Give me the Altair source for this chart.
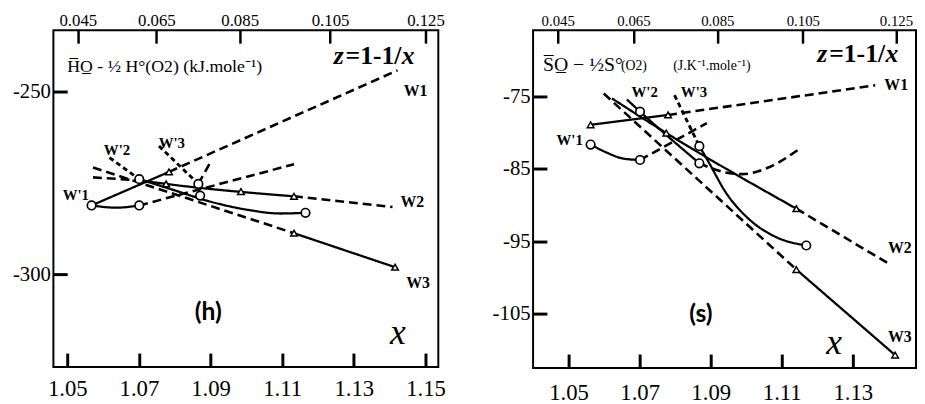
import altair as alt
import pandas as pd

# ------------------------------------------------------------------
# Panel (h): partial molar enthalpy
# ------------------------------------------------------------------
H_X_DOMAIN = [1.04614, 1.15358]
H_Y_DOMAIN = [-325.41, -233.24]
h_x_ticks = [1.05, 1.07, 1.09, 1.11, 1.13, 1.15]
h_y_ticks = [-250, -300]
h_z_tick_pos = [1.05295, 1.07488, 1.09813, 1.12336, 1.15]
h_z_tick_labels = ["0.045", "0.065", "0.085", "0.105", "0.125"]

h_w1_solid = [(1.0568, -281.2), (1.0784, -272.0)]
h_w1_dash = [(1.0784, -272.0), (1.1422, -244.2)]
h_w1p_solid = [(1.0568, -281.2), (1.0637, -281.8), (1.0701, -281.2)]
h_w1p_dash = [(1.0701, -281.2), (1.1133, -269.9)]
h_w2p_fine = [(1.0618, -268.1), (1.0701, -274.0)]
h_w2p_solid = [(1.0701, -274.0), (1.0798, -277.0), (1.0894, -280.0),
               (1.1004, -282.4), (1.1095, -283.4), (1.1165, -283.2)]
h_w3p_fine = [(1.0756, -264.9), (1.0866, -275.3)]
h_w3p_dash = [(1.0866, -275.3), (1.0902, -268.9)]
h_w2_dash_left = [(1.0572, -273.5), (1.0701, -274.3)]
h_w2_solid = [(1.0701, -274.3), (1.0776, -275.3), (1.1133, -278.7)]
h_w2_dash = [(1.1133, -278.7), (1.1408, -281.6)]
h_w3_dash = [(1.0572, -270.8), (1.1133, -288.8)]
h_w3_solid = [(1.1133, -288.8), (1.1415, -298.1)]

h_circles = [(1.0568, -281.2), (1.0701, -281.2), (1.0701, -274.0),
             (1.0871, -278.5), (1.0866, -275.3), (1.1165, -283.2)]
h_triangles = [(1.0784, -272.0), (1.0776, -275.3), (1.0985, -277.4),
               (1.1133, -278.7), (1.1133, -288.8), (1.1415, -298.1)]

h_label_text = ["W'2", "W'3", "W'1", "W1", "W2", "W3"]
h_label_x = [1.0639, 1.0792, 1.0524, 1.1472, 1.1463, 1.1479]
h_label_y = [-266.1, -264.1, -278.3, -250.0, -280.3, -302.4]

# ------------------------------------------------------------------
# Panel (s): partial molar entropy
# ------------------------------------------------------------------
S_X_DOMAIN = [1.04, 1.14778]
S_Y_DOMAIN = [-112.5, -65.86]
s_x_ticks = [1.05, 1.07, 1.09, 1.11, 1.13]
s_y_ticks = [-75, -85, -95, -105]
s_z_tick_pos = [1.04694, 1.06825, 1.09186, 1.11592, 1.14214]
s_z_tick_labels = ["0.045", "0.065", "0.085", "0.105", "0.125"]

s_w1_solid = [(1.0562, -78.91), (1.0780, -77.55)]
s_w1_dash = [(1.0780, -77.55), (1.1363, -73.46)]
s_w1p_solid = [(1.0562, -81.64), (1.0608, -82.77), (1.0655, -83.59), (1.0701, -83.77)]
s_w1p_dash = [(1.0701, -83.77), (1.0889, -78.68)]
s_w2p_solid = [(1.0664, -75.41), (1.0701, -77.09), (1.0868, -84.23)]
s_w2p_dash = [(1.0868, -84.23), (1.0942, -85.50), (1.0988, -85.73),
              (1.1062, -84.82), (1.1150, -82.23)]
s_w3p_fine = [(1.0798, -74.82), (1.0868, -81.86)]
s_w3p_solid = [(1.0868, -81.86), (1.0895, -84.14), (1.0942, -88.23),
               (1.1006, -91.87), (1.1081, -94.36), (1.1169, -95.59)]
s_w2_solid = [(1.0622, -75.27), (1.0775, -80.05), (1.1141, -90.50)]
s_w2_dash = [(1.1141, -90.50), (1.1405, -98.22)]
s_w3_dash = [(1.0599, -74.59), (1.1141, -98.91)]
s_w3_solid = [(1.1141, -98.91), (1.1419, -110.73)]

s_circles = [(1.0562, -81.64), (1.0701, -83.77), (1.0701, -77.09),
             (1.0868, -81.86), (1.0868, -84.23), (1.1169, -95.59)]
s_triangles = [(1.0562, -78.91), (1.0780, -77.55), (1.0775, -80.05),
               (1.1141, -90.50), (1.1141, -98.91), (1.1419, -110.73)]

s_label_text = ["W'2", "W'3", "W'1", "W1", "W2", "W3"]
s_label_x = [1.0714, 1.0853, 1.0503, 1.1422, 1.1432, 1.1432]
s_label_y = [-74.45, -74.45, -81.0, -73.46, -96.0, -108.27]

h_segments = [
    ("w1s", "solid", h_w1_solid), ("w1d", "dash", h_w1_dash),
    ("w1ps", "solid", h_w1p_solid), ("w1pd", "dash", h_w1p_dash),
    ("w2pf", "fine", h_w2p_fine), ("w2ps", "solid", h_w2p_solid),
    ("w3pf", "fine", h_w3p_fine), ("w3pd", "dash", h_w3p_dash),
    ("w2dl", "dash", h_w2_dash_left), ("w2s", "solid", h_w2_solid),
    ("w2d", "dash", h_w2_dash), ("w3d", "dash", h_w3_dash),
    ("w3s", "solid", h_w3_solid),
]
s_segments = [
    ("w1s", "solid", s_w1_solid), ("w1d", "dash", s_w1_dash),
    ("w1ps", "solid", s_w1p_solid), ("w1pd", "dash", s_w1p_dash),
    ("w2ps", "solid", s_w2p_solid), ("w2pd", "dash", s_w2p_dash),
    ("w3pf", "fine", s_w3p_fine), ("w3ps", "solid", s_w3p_solid),
    ("w2s", "solid", s_w2_solid), ("w2d", "dash", s_w2_dash),
    ("w3d", "dash", s_w3_dash), ("w3s", "solid", s_w3_solid),
]

SERIF = "Liberation Serif"
SANS = "Lato"
TICK = 14
TOP_TICK = 13


def seg_frame(segments):
    rows = []
    for name, style, pts in segments:
        for i, (x, y) in enumerate(pts):
            rows.append({"seg": name, "style": style, "i": i, "x": x, "y": y})
    return pd.DataFrame(rows)


def pts_frame(pts):
    return pd.DataFrame({"x": [p[0] for p in pts], "y": [p[1] for p in pts]})


def label_expr(pos, labels):
    expr = "'%s'" % labels[-1]
    for k in range(len(pos) - 2, -1, -1):
        mid = (pos[k] + pos[k + 1]) / 2
        expr = "datum.value < %f ? '%s' : (%s)" % (mid, labels[k], expr)
    return expr


def txt(text, x, y, size, font=SERIF, weight="normal", style="normal",
        align="left", baseline="middle"):
    return alt.Chart(pd.DataFrame({"t": [text]})).mark_text(
        text=text, font=font, fontSize=size, fontWeight=weight,
        fontStyle=style, align=align, baseline=baseline, color="black"
    ).encode(x=alt.value(x), y=alt.value(y))


def panel(segments, circles, triangles, lab_text, lab_x, lab_y,
          xdom, ydom, xticks, yticks, zpos, zlabels,
          width, height, top_font, top_pad, bottom_pad, texts):
    xs = alt.Scale(domain=xdom, nice=False, zero=False)
    ys = alt.Scale(domain=ydom, nice=False, zero=False)
    bottom_axis = alt.Axis(
        orient="bottom", values=xticks, format=".2f", offset=-TICK,
        tickSize=TICK, tickWidth=3, tickColor="black", domain=False,
        grid=False, labelFont=SERIF, labelFontSize=23, labelColor="black",
        labelPadding=bottom_pad, title=None, labelFlush=False)
    left_axis = alt.Axis(
        orient="left", values=yticks, labelExpr="datum.value + ''",
        offset=-TICK, tickSize=TICK, tickWidth=3, tickColor="black",
        domain=False, grid=False, labelFont=SERIF, labelFontSize=21,
        labelColor="black", labelPadding=3, title=None,
        minExtent=45 + TICK, maxExtent=200, labelFlush=False)
    top_axis = alt.Axis(
        orient="top", values=zpos, labelExpr=label_expr(zpos, zlabels),
        offset=-TOP_TICK, tickSize=TOP_TICK, tickWidth=2.5, tickColor="black",
        domain=False, grid=False, labelFont=SERIF, labelFontSize=top_font,
        labelColor="black", labelPadding=top_pad, title=None,
        minExtent=18 + TOP_TICK, maxExtent=200, labelFlush=False)

    lines = alt.Chart(seg_frame(segments)).mark_line(
        interpolate="monotone", color="black"
    ).encode(
        x=alt.X("x:Q", scale=xs, axis=bottom_axis),
        y=alt.Y("y:Q", scale=ys, axis=left_axis),
        detail="seg:N",
        order="i:Q",
        strokeDash=alt.StrokeDash(
            "style:N",
            scale=alt.Scale(domain=["solid", "dash", "fine"],
                            range=[[1, 0], [9, 5], [5, 3.5]]),
            legend=None),
        strokeWidth=alt.StrokeWidth(
            "style:N",
            scale=alt.Scale(domain=["solid", "dash", "fine"],
                            range=[2.3, 2.9, 1.9]),
            legend=None),
    )
    circ = alt.Chart(pts_frame(circles)).mark_point(
        shape="circle", size=75, filled=True, fill="white", stroke="black",
        strokeWidth=1.7, opacity=1
    ).encode(
        x=alt.X("x:Q", scale=xs, axis=top_axis),
        y=alt.Y("y:Q", scale=ys, axis=None),
    )
    tri = alt.Chart(pts_frame(triangles)).mark_point(
        shape="triangle-up", size=45, filled=True, fill="white",
        stroke="black", strokeWidth=1.5, opacity=1
    ).encode(
        x=alt.X("x:Q", scale=xs, axis=None),
        y=alt.Y("y:Q", scale=ys, axis=None),
    )
    lab_df = pd.DataFrame({"t": lab_text, "x": lab_x, "y": lab_y})
    lab_df["prime"] = lab_df["t"].str.contains("'")
    labels_w = alt.Chart(lab_df[~lab_df["prime"]]).mark_text(
        font=SERIF, fontSize=16, fontWeight="bold", color="black",
        align="center", baseline="middle"
    ).encode(
        x=alt.X("x:Q", scale=xs, axis=None),
        y=alt.Y("y:Q", scale=ys, axis=None),
        text="t:N",
    )
    labels_wp = alt.Chart(lab_df[lab_df["prime"]]).mark_text(
        font=SERIF, fontSize=15, fontWeight="bold", color="black",
        align="center", baseline="middle"
    ).encode(
        x=alt.X("x:Q", scale=xs, axis=None),
        y=alt.Y("y:Q", scale=ys, axis=None),
        text="t:N",
    )
    layers = [lines, circ, tri, labels_w, labels_wp] + texts
    return alt.layer(*layers).resolve_axis(
        x="independent", y="independent"
    ).properties(width=width, height=height)


h_texts = [
    txt("H\u0305O\u0332 - \u00bd H\u00b0(O2)  (kJ.mole\u207b\u00b9)", 14, 37, 18),
    txt("z", 284, 26, 26, weight="bold", style="italic"),
    txt("=1-1/", 296, 26, 26, weight="bold"),
    txt("x", 353, 26, 26, weight="bold", style="italic"),
    txt("(h)", 157, 285, 25, font=SANS, weight="bold", align="center"),
    txt("x", 349, 307, 36, style="italic", align="center"),
]
s_texts = [
    txt("S\u0305O\u0332 \u2212 \u00bdS\u00b0", 10, 35, 20),
    txt("(O2)", 89, 36, 14),
    txt("(J.K\u207b\u00b9.mole\u207b\u00b9)", 142, 36, 14),
    txt("z", 288, 24, 26, weight="bold", style="italic"),
    txt("=1-1/", 300, 24, 26, weight="bold"),
    txt("x", 357, 24, 26, weight="bold", style="italic"),
    txt("(s)", 170, 287, 25, font=SANS, weight="bold", align="center"),
    txt("x", 305, 317, 36, style="italic", align="center"),
]

h_chart = panel(h_segments, h_circles, h_triangles, h_label_text, h_label_x,
                h_label_y, H_X_DOMAIN, H_Y_DOMAIN, h_x_ticks, h_y_ticks,
                h_z_tick_pos, h_z_tick_labels, 390, 341, 17, 1, 11, h_texts)
s_chart = panel(s_segments, s_circles, s_triangles, s_label_text, s_label_x,
                s_label_y, S_X_DOMAIN, S_Y_DOMAIN, s_x_ticks, s_y_ticks,
                s_z_tick_pos, s_z_tick_labels, 388, 342, 15, 2, 14, s_texts)

chart = alt.hconcat(h_chart, s_chart, spacing=41).properties(
    padding=0, background="white"
).configure_view(stroke="black", strokeWidth=2)

chart.save("out.html", embed_options={"renderer": "svg", "actions": False})
